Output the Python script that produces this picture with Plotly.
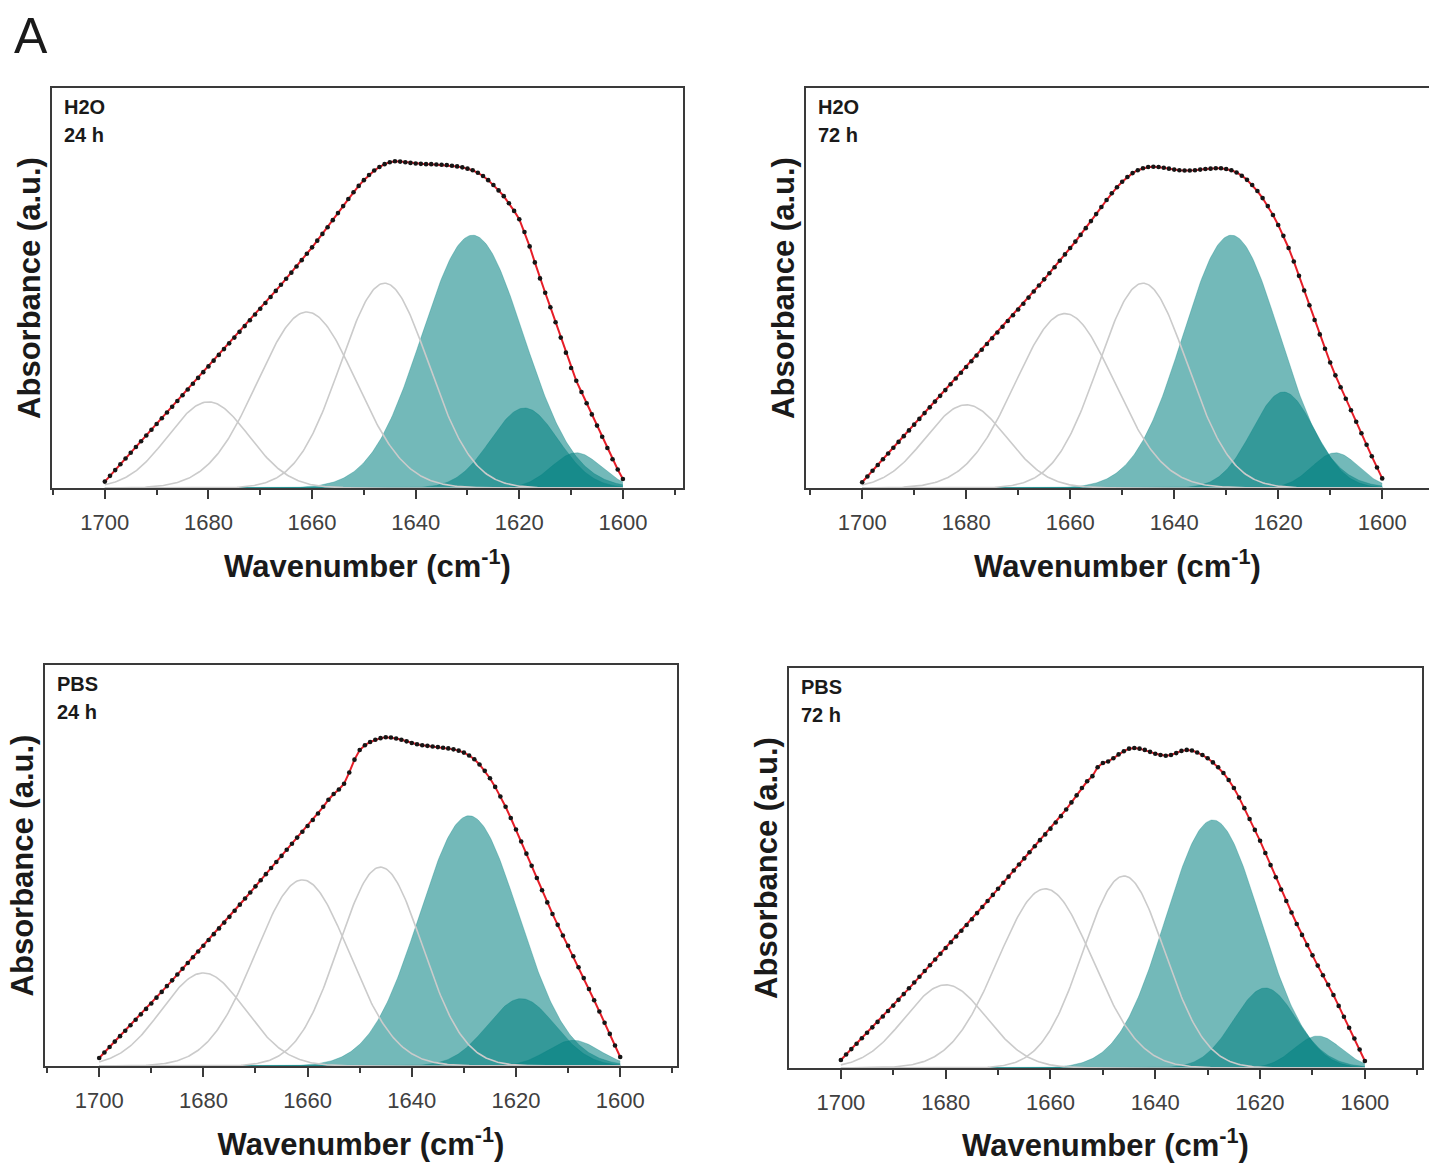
import numpy as np
import plotly.graph_objects as go

W, H = 1429, 1163

# ---------------- data ----------------
wavenumber = list(range(1700, 1599, -1))  # 1700 ... 1600 (cm-1)

# measured spectra (a.u.), one value per cm-1 from 1700 down to 1600
spec_h2o_24 = [
    0.020, 0.038, 0.056, 0.074, 0.092, 0.110, 0.128, 0.146, 0.164, 0.182,
    0.200, 0.218, 0.236, 0.254, 0.272, 0.290, 0.308, 0.326, 0.344, 0.362,
    0.380, 0.398, 0.416, 0.434, 0.452, 0.470, 0.488, 0.506, 0.524, 0.542,
    0.560, 0.578, 0.597, 0.616, 0.635, 0.654, 0.673, 0.692, 0.712, 0.732,
    0.752, 0.773, 0.794, 0.815, 0.837, 0.859, 0.881, 0.903, 0.924, 0.944,
    0.962, 0.978, 0.992, 1.003, 1.012, 1.018, 1.021, 1.020, 1.018, 1.016,
    1.014, 1.013, 1.012, 1.012, 1.011, 1.010, 1.009, 1.007, 1.005, 1.002,
    0.998, 0.993, 0.985, 0.975, 0.962, 0.947, 0.930, 0.912, 0.890, 0.866,
    0.840, 0.800, 0.755, 0.705, 0.655, 0.610, 0.565, 0.518, 0.470, 0.423,
    0.375, 0.335, 0.300, 0.265, 0.230, 0.195, 0.160, 0.125, 0.090, 0.058,
    0.028]
spec_h2o_72 = [
    0.018, 0.036, 0.054, 0.072, 0.090, 0.108, 0.126, 0.144, 0.162, 0.180,
    0.198, 0.216, 0.234, 0.252, 0.270, 0.288, 0.306, 0.324, 0.342, 0.360,
    0.378, 0.396, 0.414, 0.432, 0.450, 0.468, 0.486, 0.504, 0.522, 0.540,
    0.558, 0.576, 0.595, 0.614, 0.633, 0.652, 0.671, 0.690, 0.710, 0.730,
    0.750, 0.770, 0.791, 0.812, 0.834, 0.856, 0.878, 0.900, 0.921, 0.940,
    0.957, 0.972, 0.984, 0.993, 0.999, 1.003, 1.004, 1.003, 1.001, 0.998,
    0.995, 0.993, 0.992, 0.992, 0.993, 0.995, 0.997, 0.998, 0.999, 0.999,
    0.997, 0.993, 0.986, 0.976, 0.963, 0.947, 0.928, 0.906, 0.881, 0.853,
    0.822, 0.788, 0.750, 0.708, 0.663, 0.617, 0.571, 0.525, 0.480, 0.435,
    0.392, 0.352, 0.315, 0.279, 0.243, 0.207, 0.171, 0.135, 0.099, 0.064,
    0.030]
spec_pbs_24 = [
    0.025, 0.042, 0.059, 0.076, 0.093, 0.110, 0.127, 0.144, 0.161, 0.178,
    0.195, 0.213, 0.231, 0.249, 0.267, 0.285, 0.303, 0.321, 0.339, 0.357,
    0.375, 0.393, 0.411, 0.429, 0.447, 0.465, 0.484, 0.503, 0.522, 0.541,
    0.560, 0.579, 0.598, 0.617, 0.636, 0.655, 0.674, 0.693, 0.712, 0.730,
    0.748, 0.767, 0.787, 0.808, 0.830, 0.848, 0.862, 0.880, 0.915, 0.955,
    0.985, 1.000, 1.010, 1.017, 1.022, 1.025, 1.024, 1.021, 1.017, 1.012,
    1.007, 1.003, 1.000, 0.998, 0.996, 0.994, 0.992, 0.990, 0.987, 0.983,
    0.977, 0.968, 0.956, 0.940, 0.920, 0.897, 0.870, 0.840, 0.808, 0.773,
    0.737, 0.700, 0.662, 0.624, 0.586, 0.548, 0.510, 0.474, 0.440, 0.407,
    0.375, 0.342, 0.308, 0.274, 0.240, 0.205, 0.170, 0.135, 0.100, 0.064,
    0.028]
spec_pbs_72 = [
    0.025, 0.042, 0.059, 0.076, 0.093, 0.110, 0.127, 0.144, 0.161, 0.178,
    0.195, 0.213, 0.231, 0.249, 0.267, 0.285, 0.303, 0.321, 0.339, 0.357,
    0.375, 0.393, 0.411, 0.429, 0.447, 0.465, 0.484, 0.503, 0.522, 0.541,
    0.560, 0.579, 0.598, 0.617, 0.636, 0.655, 0.674, 0.693, 0.712, 0.730,
    0.748, 0.767, 0.787, 0.808, 0.830, 0.852, 0.875, 0.896, 0.912, 0.940,
    0.953, 0.958, 0.968, 0.980, 0.990, 0.998, 1.000, 0.998, 0.994, 0.988,
    0.982, 0.978, 0.976, 0.978, 0.984, 0.991, 0.994, 0.992, 0.986, 0.978,
    0.968, 0.955, 0.940, 0.922, 0.900, 0.875, 0.845, 0.812, 0.778, 0.744,
    0.710, 0.672, 0.634, 0.596, 0.558, 0.522, 0.486, 0.450, 0.416, 0.384,
    0.352, 0.320, 0.290, 0.260, 0.228, 0.194, 0.160, 0.126, 0.092, 0.058,
    0.022]

# fitted Gaussian components: centre (cm-1), height (a.u.), sigma (cm-1)
peak_centres = [1680, 1661, 1646, 1629, 1619, 1609]
heights_h2o_24 = [0.269, 0.550, 0.640, 0.790, 0.250, 0.110]
sigmas_h2o_24 = [7.8, 9.5, 8.5, 9.8, 6.5, 4.8]
heights_h2o_72 = [0.260, 0.545, 0.640, 0.790, 0.300, 0.110]
sigmas_h2o_72 = [7.8, 9.5, 8.5, 9.3, 6.0, 4.5]
heights_pbs_24 = [0.290, 0.580, 0.620, 0.780, 0.210, 0.080]
sigmas_pbs_24 = [8.0, 9.0, 8.0, 9.5, 6.5, 5.0]
heights_pbs_72 = [0.260, 0.560, 0.600, 0.775, 0.250, 0.100]
sigmas_pbs_72 = [7.8, 9.0, 7.8, 9.0, 6.0, 4.5]

panel_solvent = ["H2O", "H2O", "PBS", "PBS"]
panel_time = ["24 h", "72 h", "24 h", "72 h"]
tick_values = [1700, 1680, 1660, 1640, 1620, 1600]
tick_labels = ["1700", "1680", "1660", "1640", "1620", "1600"]

spectra = [spec_h2o_24, spec_h2o_72, spec_pbs_24, spec_pbs_72]
heights = [heights_h2o_24, heights_h2o_72, heights_pbs_24, heights_pbs_72]
sigmas = [sigmas_h2o_24, sigmas_h2o_72, sigmas_pbs_24, sigmas_pbs_72]

# ---------------- layout geometry (pixels) ----------------
# (left, right, top, bottom, x_left_value, x_right_value, mirror_y)
panels = [
    (52, 683, 88, 488, 1710.2, 1588.4, True),
    (806, 1429, 88, 488, 1710.8, 1591.0, False),
    (45, 677, 665, 1066, 1710.4, 1589.1, True),
    (789, 1422, 668, 1068, 1709.9, 1589.1, True),
]

fill_col = "rgba(0,128,128,0.55)"
gray = "rgb(203,203,203)"
axis_col = "#3a3a3a"
font_main = "Liberation Sans, Arial, sans-serif"

fig = go.Figure()
xg = np.linspace(1700, 1600, 401)

for i, (l, r, t, b, xl, xr, mir) in enumerate(panels):
    n = i + 1
    xa = "x" if n == 1 else f"x{n}"
    ya = "y" if n == 1 else f"y{n}"
    # filled components (beta-sheet region)
    for k in (3, 4, 5):
        yk = heights[i][k] * np.exp(-((xg - peak_centres[k]) ** 2) / (2 * sigmas[i][k] ** 2))
        fig.add_trace(go.Scatter(x=xg, y=yk, mode="lines", fill="tozeroy",
                                 fillcolor=fill_col,
                                 line=dict(color="rgba(0,128,128,0.3)", width=1),
                                 xaxis=xa, yaxis=ya, showlegend=False, hoverinfo="skip"))
    # outline components
    for k in (0, 1, 2):
        yk = heights[i][k] * np.exp(-((xg - peak_centres[k]) ** 2) / (2 * sigmas[i][k] ** 2))
        fig.add_trace(go.Scatter(x=xg, y=yk, mode="lines",
                                 line=dict(color=gray, width=1.6),
                                 xaxis=xa, yaxis=ya, showlegend=False, hoverinfo="skip"))
    # spectrum: red fit line + black data points
    fig.add_trace(go.Scatter(x=wavenumber, y=spectra[i], mode="lines",
                             line=dict(color="rgb(230,30,40)", width=2),
                             xaxis=xa, yaxis=ya, showlegend=False))
    fig.add_trace(go.Scatter(x=wavenumber, y=spectra[i], mode="markers",
                             marker=dict(color="#151515", size=4.6),
                             xaxis=xa, yaxis=ya, showlegend=False))

    xdom = [l / W, r / W]
    ydom = [1 - b / H, 1 - t / H]
    xkey = "xaxis" if n == 1 else f"xaxis{n}"
    ykey = "yaxis" if n == 1 else f"yaxis{n}"
    fig.update_layout(**{
        xkey: dict(domain=xdom, range=[xl, xr], anchor=ya,
                   showline=True, linecolor=axis_col, linewidth=2, mirror=True,
                   ticks="outside", ticklen=9, tickwidth=1.5, tickcolor=axis_col,
                   tickvals=tick_values, ticktext=tick_labels,
                   ticklabelstandoff=5,
                   minor=dict(dtick=10, tick0=1600, ticks="outside", ticklen=5,
                              tickwidth=1.5, tickcolor=axis_col),
                   tickfont=dict(family=font_main, size=22, color="#404040"),
                   showgrid=False, zeroline=False,
                   title=dict(text="Wavenumber (cm<sup>-1</sup>)",
                              font=dict(family=font_main, size=31, color="#1a1a1a",
                                        weight="bold"),
                              standoff=21)),
        ykey: dict(domain=ydom, range=[0, 1.25], anchor=xa,
                   showline=True, linecolor=axis_col, linewidth=2, mirror=mir,
                   showticklabels=False, ticks="", showgrid=False, zeroline=False,
                   title=dict(text="Absorbance (a.u.)",
                              font=dict(family=font_main, size=31, color="#1a1a1a",
                                        weight="bold"),
                              standoff=0)),
    })
    fig.add_annotation(x=(l + 10) / W, y=1 - (t + 19) / H, xref="paper", yref="paper",
                       text=panel_solvent[i], showarrow=False,
                       xanchor="left", yanchor="middle",
                       font=dict(family=font_main, size=20, color="#1a1a1a", weight="bold"))
    fig.add_annotation(x=(l + 10) / W, y=1 - (t + 47) / H, xref="paper", yref="paper",
                       text=panel_time[i], showarrow=False,
                       xanchor="left", yanchor="middle",
                       font=dict(family=font_main, size=20, color="#1a1a1a", weight="bold"))

fig.add_annotation(x=31 / W, y=1 - 36 / H, xref="paper", yref="paper", text="A",
                   showarrow=False, xanchor="center", yanchor="middle",
                   font=dict(family=font_main, size=50, color="#1a1a1a"))

fig.update_layout(width=W, height=H, margin=dict(l=0, r=0, t=0, b=0),
                  paper_bgcolor="white", plot_bgcolor="white")

fig.write_html("out.html", config={"displayModeBar": False},
               post_script="document.body.style.margin='0';document.body.style.overflow='hidden';")
